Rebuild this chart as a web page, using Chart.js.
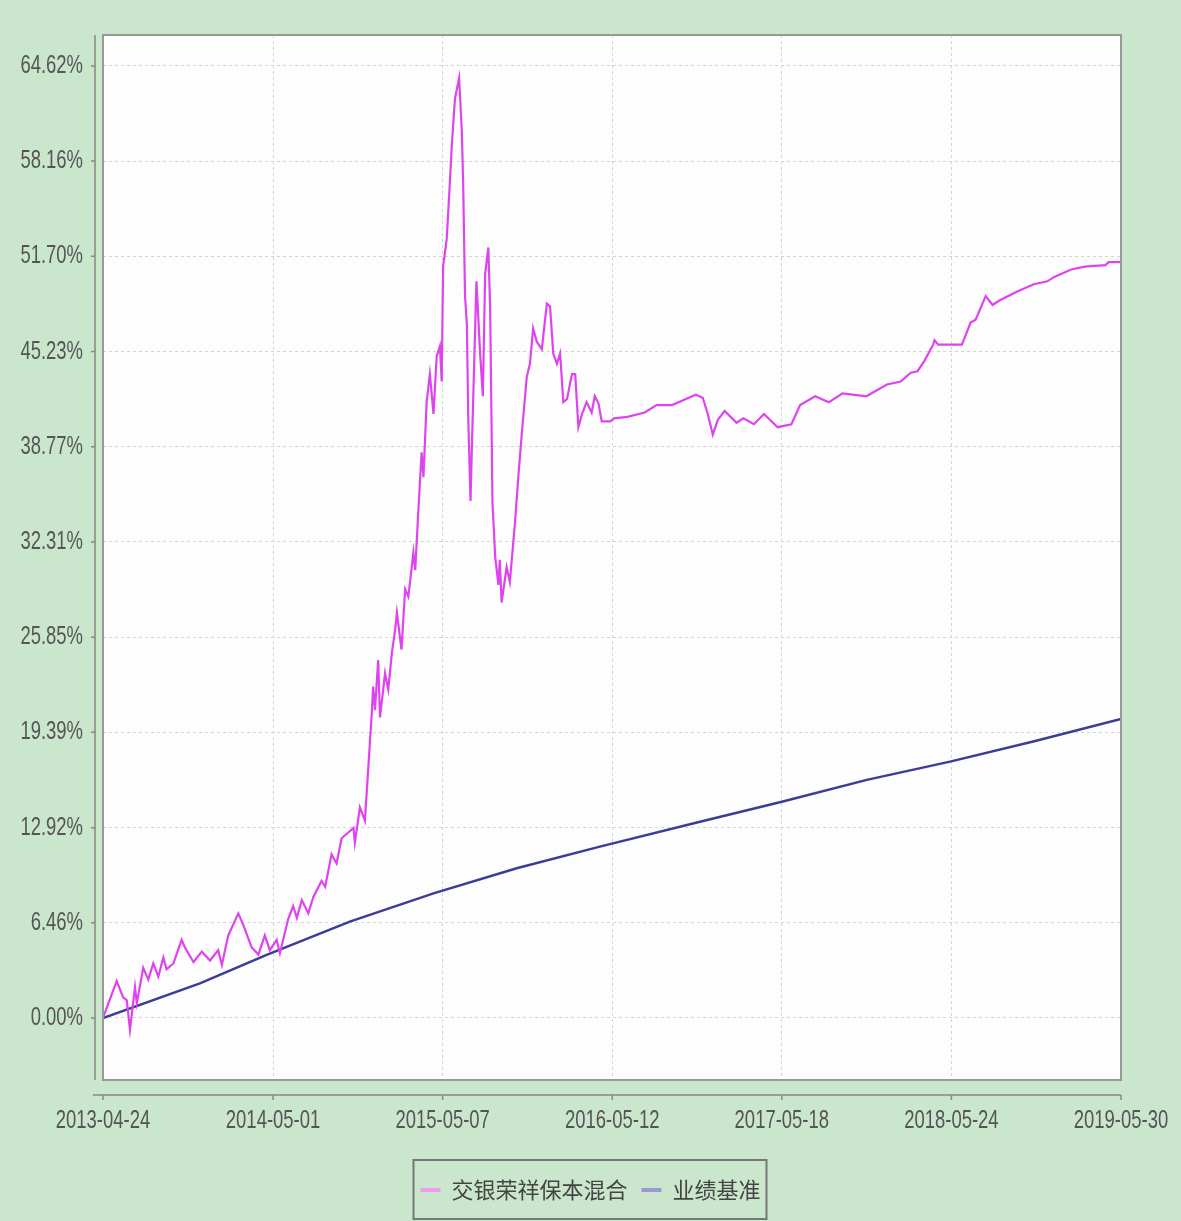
<!DOCTYPE html>
<html lang="zh-CN">
<head>
    <meta charset="UTF-8">
    <title>交银荣祥保本混合 累计收益率</title>
    <script src="https://cdn.jsdelivr.net/npm/chart.js@4"></script>
    <style>
        body { margin: 0; background: #cae6cc; }
        #wrap { width: 1181px; height: 1221px; }
    </style>
</head>
<body>
    <div id="wrap"><canvas id="navChart" width="1181" height="1221"></canvas></div>
    <script>
        // 横轴刻度（距 2013-04-24 的天数）
        const xTickDays = [0, 372, 743, 1114, 1485, 1856, 2227];
        const xTickLabels = ['2013-04-24', '2014-05-01', '2015-05-07', '2016-05-12', '2017-05-18', '2018-05-24', '2019-05-30'];
        const yTickLabels = ['0.00%', '6.46%', '12.92%', '19.39%', '25.85%', '32.31%', '38.77%', '45.23%', '51.70%', '58.16%', '64.62%'];

        const seriesNames = ['交银荣祥保本混合', '业绩基准'];

        // 交银荣祥保本混合 累计收益率(%)
        const fundDays = [0, 30, 44, 52, 59, 70, 74, 88, 99, 110, 121, 132, 139, 154, 172, 179, 198, 216, 234, 252,
            260, 274, 296, 307, 325, 340, 354, 365, 380, 387, 405, 416, 424, 435, 449, 460, 478, 486, 500, 511,
            522, 548, 551, 562, 573, 580, 588, 591, 595, 602, 606, 617, 624, 632, 639, 643, 653, 661, 668, 679,
            683, 690, 697, 701, 708, 715, 723, 730, 737, 741, 744, 752, 759, 763, 770, 779, 785, 788, 792, 796,
            799, 804, 807, 817, 825, 831, 836, 843, 847, 852, 858, 865, 868, 872, 883, 890, 901, 909, 916, 927,
            934, 941, 949, 960, 971, 978, 985, 993, 1000, 1007, 1015, 1026, 1033, 1040, 1048, 1058, 1069, 1076, 1084, 1091,
            1110, 1118, 1147, 1185, 1211, 1245, 1274, 1297, 1312, 1323, 1334, 1345, 1360, 1386, 1401, 1424, 1446, 1476, 1506, 1525,
            1558, 1588, 1618, 1670, 1715, 1745, 1767, 1782, 1797, 1816, 1819, 1827, 1879, 1898, 1909, 1931, 1946, 1961, 1999, 2036,
            2066, 2081, 2118, 2148, 2193, 2200, 2227];
        const fundValues = [0.0, 2.5, 1.4, 1.2, -0.8, 2.1, 1.0, 3.4, 2.6, 3.7, 2.8, 4.1, 3.3, 3.7, 5.3, 4.8, 3.8, 4.5, 3.9, 4.6,
            3.6, 5.6, 7.1, 6.3, 4.8, 4.3, 5.6, 4.6, 5.3, 4.4, 6.7, 7.6, 6.8, 8.0, 7.1, 8.2, 9.3, 8.9, 11.1, 10.5,
            12.2, 12.9, 11.9, 14.3, 13.4, 16.8, 20.7, 22.5, 20.9, 24.3, 20.4, 23.4, 22.3, 24.8, 26.3, 27.5, 25.0, 29.1, 28.6, 31.6,
            30.4, 34.5, 38.4, 36.7, 41.8, 43.7, 41.0, 44.9, 45.6, 43.2, 51.0, 52.9, 56.8, 59.2, 62.4, 63.8, 60.2, 56.5, 49.0, 47.1,
            40.8, 35.1, 38.8, 50.0, 45.1, 42.2, 50.5, 52.3, 48.1, 35.0, 31.3, 29.4, 31.1, 28.2, 30.6, 29.6, 33.5, 36.9, 39.6, 43.5,
            44.4, 46.8, 45.9, 45.4, 48.5, 48.3, 45.1, 44.4, 45.1, 41.8, 42.0, 43.7, 43.7, 40.1, 41.0, 41.8, 41.1, 42.2, 41.7, 40.5,
            40.5, 40.7, 40.8, 41.1, 41.6, 41.6, 42.0, 42.3, 42.1, 41.0, 39.6, 40.6, 41.2, 40.4, 40.7, 40.3, 41.0, 40.1, 40.3, 41.6,
            42.2, 41.8, 42.4, 42.2, 43.0, 43.2, 43.8, 43.9, 44.6, 45.7, 46.0, 45.7, 45.7, 47.2, 47.4, 49.0, 48.4, 48.7, 49.3, 49.8,
            50.0, 50.3, 50.8, 51.0, 51.1, 51.3, 51.3];

        // 业绩基准 累计收益率(%)
        const benchDays = [0, 212, 358, 540, 723, 905, 1087, 1306, 1485, 1671, 1853, 2035, 2227];
        const benchValues = [0.0, 2.35, 4.28, 6.54, 8.46, 10.16, 11.63, 13.32, 14.68, 16.16, 17.4, 18.76, 20.3];

        const lineColors = ['#dd44ee', '#3c3c96'];
        const legendColors = ['#ee9cf0', '#9a9acc'];

        const labelFont = "26px 'Liberation Sans', Arial, sans-serif";
        const labelSquash = 0.71;
        const legendFont = { family: "'Noto Sans CJK SC', sans-serif", size: 22 };

        // 背景、绘图区边框、偏移的坐标轴线与刻度文字
        const framePlugin = {
            id: 'frame',
            beforeDraw(chart) {
                const { ctx, chartArea: a } = chart;
                ctx.save();
                ctx.fillStyle = '#cae6cc';
                ctx.fillRect(0, 0, chart.width, chart.height);
                ctx.fillStyle = '#fdfdfd';
                ctx.fillRect(a.left, a.top, a.right - a.left, a.bottom - a.top);
                ctx.restore();
            },
            afterDraw(chart) {
                const { ctx, chartArea: a } = chart;
                const xs = chart.scales.x, ys = chart.scales.y;
                ctx.save();
                ctx.strokeStyle = '#999';
                ctx.lineWidth = 2;
                ctx.strokeRect(a.left, a.top, a.right - a.left, a.bottom - a.top);

                ctx.strokeStyle = '#888';
                ctx.lineWidth = 1.5;
                ctx.beginPath();
                ctx.moveTo(a.left - 8, a.top);
                ctx.lineTo(a.left - 8, a.bottom);
                ctx.moveTo(a.left - 10, a.bottom + 15);
                ctx.lineTo(a.right, a.bottom + 15);
                ys.ticks.forEach(t => {
                    const y = ys.getPixelForValue(t.value);
                    ctx.moveTo(a.left - 12, y);
                    ctx.lineTo(a.left - 8, y);
                });
                xs.ticks.forEach(t => {
                    const x = xs.getPixelForValue(t.value);
                    ctx.moveTo(x, a.bottom + 15);
                    ctx.lineTo(x, a.bottom + 20);
                });
                ctx.stroke();

                // 刻度文字（原图为横向压缩的字体）
                ctx.font = labelFont;
                ctx.fillStyle = '#555';
                ctx.textBaseline = 'middle';
                ctx.textAlign = 'right';
                ys.ticks.forEach((t, i) => {
                    ctx.save();
                    ctx.translate(a.left - 20, ys.getPixelForValue(t.value));
                    ctx.scale(labelSquash, 1);
                    ctx.fillText(yTickLabels[i], 0, 0);
                    ctx.restore();
                });
                ctx.textAlign = 'center';
                xs.ticks.forEach((t, i) => {
                    ctx.save();
                    ctx.translate(xs.getPixelForValue(t.value), a.bottom + 41);
                    ctx.scale(labelSquash, 1);
                    ctx.fillText(xTickLabels[i], 0, 0);
                    ctx.restore();
                });

                // 图例外框
                const boxes = chart.legend.legendHitBoxes;
                if (boxes && boxes.length) {
                    const left = Math.min(...boxes.map(b => b.left)) - 7;
                    const right = Math.max(...boxes.map(b => b.left + b.width)) + 6;
                    const top = boxes[0].top - 19;
                    const bottom = boxes[0].top + boxes[0].height + 18;
                    ctx.strokeStyle = '#777';
                    ctx.lineWidth = 2;
                    ctx.strokeRect(left, top, right - left, bottom - top);
                }
                ctx.restore();
            }
        };

        const ctx = document.getElementById('navChart').getContext('2d');
        new Chart(ctx, {
            type: 'line',
            data: {
                datasets: [
                    {
                        label: seriesNames[0],
                        data: fundDays.map((d, i) => ({ x: d, y: fundValues[i] })),
                        borderColor: lineColors[0],
                        backgroundColor: legendColors[0],
                        borderWidth: 2.2,
                        pointRadius: 0,
                        tension: 0
                    },
                    {
                        label: seriesNames[1],
                        data: benchDays.map((d, i) => ({ x: d, y: benchValues[i] })),
                        borderColor: lineColors[1],
                        backgroundColor: legendColors[1],
                        borderWidth: 2.5,
                        pointRadius: 0,
                        tension: 0
                    }
                ]
            },
            options: {
                responsive: false,
                animation: false,
                layout: { padding: { left: 0, top: 35, right: 0, bottom: 10 } },
                plugins: {
                    tooltip: { enabled: false },
                    legend: {
                        position: 'bottom',
                        labels: {
                            font: legendFont,
                            color: '#444',
                            boxWidth: 20,
                            boxHeight: 4,
                            padding: 14,
                            generateLabels(chart) {
                                return Chart.defaults.plugins.legend.labels.generateLabels(chart).map((l, i) =>
                                    Object.assign(l, { fillStyle: legendColors[i], strokeStyle: legendColors[i], lineWidth: 0 }));
                            }
                        }
                    }
                },
                scales: {
                    x: {
                        type: 'linear',
                        min: 0,
                        max: 2227,
                        afterBuildTicks(scale) {
                            scale.ticks = xTickDays.map(v => ({ value: v }));
                        },
                        afterFit(scale) { scale.height = 85; },
                        ticks: { display: false },
                        grid: { color: '#d4d4d4', lineWidth: 1, drawTicks: false },
                        border: { display: false, dash: [3, 3] }
                    },
                    y: {
                        min: -4.21,
                        max: 66.72,
                        afterBuildTicks(scale) {
                            scale.ticks = yTickLabels.map(s => ({ value: parseFloat(s) }));
                        },
                        afterFit(scale) { scale.width = 103; },
                        ticks: { display: false },
                        grid: { color: '#d4d4d4', lineWidth: 1, drawTicks: false },
                        border: { display: false, dash: [3, 3] }
                    },
                    // 右侧留白
                    yRight: {
                        position: 'right',
                        afterFit(scale) { scale.width = 60; },
                        ticks: { display: false },
                        grid: { display: false, drawTicks: false },
                        border: { display: false }
                    }
                }
            },
            plugins: [framePlugin]
        });
    </script>
</body>
</html>
